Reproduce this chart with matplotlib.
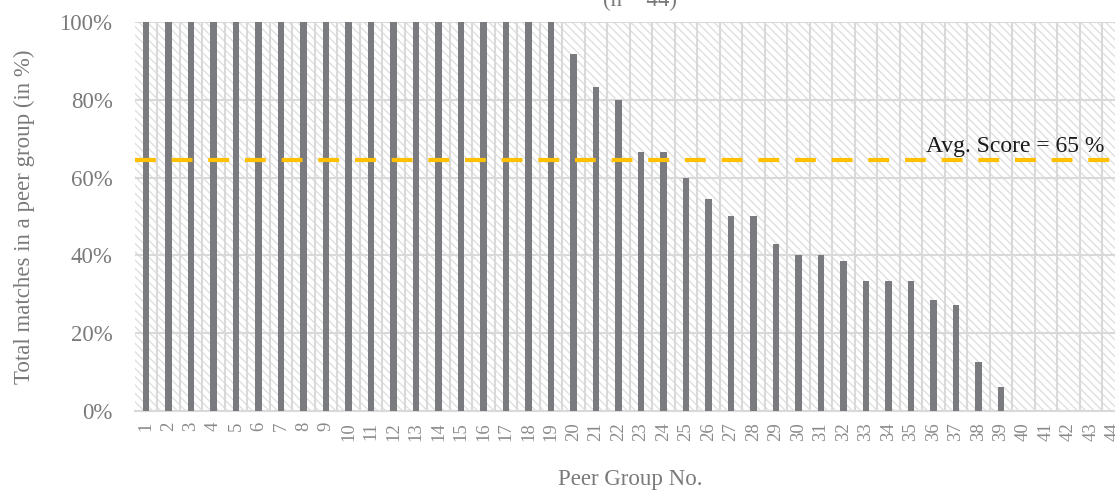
import numpy as np
import matplotlib.pyplot as plt
from matplotlib.patches import Rectangle
from matplotlib.ticker import FixedLocator, PercentFormatter

# data
groups = list(range(1, 45))
scores = [100] * 19 + [91.7, 83.3, 80.0, 66.7, 66.7, 60.0, 54.5, 50.0, 50.0,
                       42.9, 40.0, 40.0, 38.5, 33.3, 33.3, 33.3, 28.6, 27.3,
                       12.5, 6.25, 0, 0, 0, 0, 0]
avg_label = 'Avg. Score = 65 %'
subtitle = '(n = 44)'

grey_txt = '#7a7a7a'
grid_col = '#d9d9d9'

plt.rcParams['font.family'] = ['Liberation Serif', 'DejaVu Serif']

fig = plt.figure(figsize=(11.15, 4.91), dpi=100)
ax = fig.add_axes([134.75 / 1115, 80 / 491, 990 / 1115, 389 / 491])

x = np.arange(len(groups))

# hatched plot background
bg = Rectangle((0, 0), 1, 1, transform=ax.transAxes, facecolor='white',
               edgecolor='#e0e0e0', hatch='\\\\\\\\', lw=0, zorder=0)
ax.add_patch(bg)
ax.set_facecolor('white')

ax.bar(x, scores, width=0.27, color='#7a7b7e', zorder=3)

avg = np.mean(scores)
ax.axhline(avg, color='#ffc000', lw=3, dashes=(5, 3.8), solid_capstyle='butt',
           dash_capstyle='butt', zorder=4)
ax.text(42.6, avg + 0.9, avg_label, ha='right', va='bottom', fontsize=17,
        color='#1a1a1a', zorder=5)

ax.set_xlim(-0.5, len(groups) - 0.5)
ax.set_ylim(0, 100)
ax.set_xticks(x)
ax.set_xticklabels([str(g) for g in groups], rotation=90, fontsize=13.5,
                   color='#8a8a8a')
ax.xaxis.set_minor_locator(FixedLocator(x[:-1] + 0.5))
ax.set_yticks(np.arange(0, 101, 20))
ax.yaxis.set_major_formatter(PercentFormatter(decimals=0))
ax.tick_params(axis='y', labelsize=16.5, labelcolor=grey_txt, length=0, pad=16)
ax.tick_params(axis='x', which='both', length=0, pad=8)

ax.grid(axis='y', color=grid_col, lw=1.5, zorder=1)
ax.grid(axis='x', which='minor', color=grid_col, lw=1.5, zorder=1)
ax.set_axisbelow(True)
for s in ['top', 'right', 'left']:
    ax.spines[s].set_visible(False)
ax.spines['bottom'].set_color(grid_col)
ax.spines['bottom'].set_linewidth(1.5)

ax.set_xlabel('Peer Group No.', fontsize=16.5, color=grey_txt, labelpad=20)
ax.set_ylabel('Total matches in a peer group (in %)', fontsize=16.5,
              color=grey_txt, labelpad=18)

fig.text(0.574, 1.0, subtitle, ha='center', va='center', fontsize=16.5,
         color=grey_txt)

fig.savefig('out.png', dpi=100)
